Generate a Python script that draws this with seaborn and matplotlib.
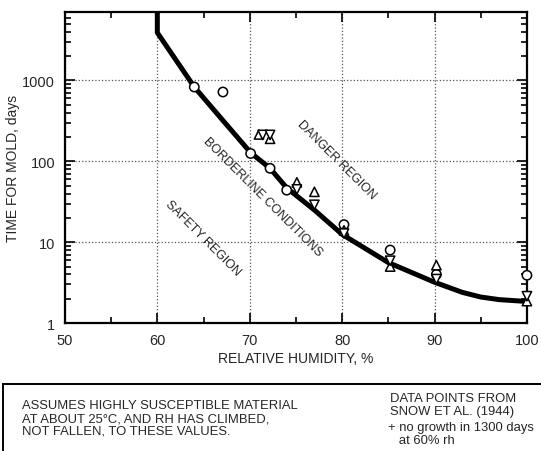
import matplotlib
matplotlib.use('Agg')
import matplotlib.pyplot as plt
from matplotlib.patches import Rectangle
from matplotlib.ticker import FixedLocator, LogLocator, NullFormatter
import seaborn as sns
import numpy as np
import pandas as pd

# boundary curve
curve_rh = [60, 60, 64, 67, 70.1, 72.2, 74, 77, 80, 85, 90, 93, 95, 97, 100]
curve_days = [7000, 3900, 830, 330, 128, 82, 47, 25, 12.5, 5.6, 3.2, 2.4, 2.1, 1.95, 1.85]

# Snow et al. data points
circle_rh = [64, 67.1, 70.1, 72.2, 74, 80.2, 85.2, 90.2, 100]
circle_days = [830, 720, 125, 82, 44, 16.5, 8.0, 4.0, 3.9]
up_rh = [71.0, 72.2, 75.1, 77, 80.2, 85.2, 90.2, 100]
up_days = [215, 190, 55, 42, 14, 5.0, 5.2, 1.87]
down_rh = [71.4, 72.2, 75.1, 77, 80.2, 85.2, 90.2, 100]
down_days = [212, 212, 45, 29, 12.8, 5.9, 3.5, 2.15]

x_ticks = [50, 60, 70, 80, 90, 100]
y_ticks = [1, 10, 100, 1000]

sns.set_style("ticks")
plt.rcParams['font.family'] = ['Liberation Sans', 'DejaVu Sans']

fig = plt.figure(figsize=(5.41, 4.52), dpi=100)
ax = fig.add_axes([0.120, 0.283, 0.854, 0.688])

curve = pd.DataFrame({'rh': curve_rh, 'days': curve_days})
sns.lineplot(data=curve, x='rh', y='days', sort=False, estimator=None,
             color='black', lw=3.6, ax=ax, zorder=3)

pts = pd.concat([
    pd.DataFrame({'rh': circle_rh, 'days': circle_days, 'kind': 'circle'}),
    pd.DataFrame({'rh': up_rh, 'days': up_days, 'kind': 'up'}),
    pd.DataFrame({'rh': down_rh, 'days': down_days, 'kind': 'down'}),
])
sns.scatterplot(data=pts, x='rh', y='days', style='kind',
                markers={'circle': 'o', 'up': '^', 'down': 'v'},
                s=45, facecolor='white', edgecolor='black', linewidth=1.1,
                legend=False, ax=ax, zorder=4, clip_on=False)

ax.set_yscale('log')
ax.set_xlim(50, 100)
ax.set_ylim(1, 7000)
ax.set_xticks(x_ticks)
ax.xaxis.set_minor_locator(FixedLocator([55, 65, 75, 85, 95]))
ax.set_yticks(y_ticks)
ax.set_yticklabels([str(v) for v in y_ticks])
ax.yaxis.set_minor_locator(LogLocator(base=10, subs=np.arange(2, 10)))
ax.yaxis.set_minor_formatter(NullFormatter())
ax.tick_params(which='both', direction='in', top=True, right=True,
               labelsize=10.5, width=1.2, color='black')
ax.tick_params(which='major', length=7)
ax.tick_params(which='minor', length=4.5)
ax.tick_params(axis='x', pad=7)
ax.tick_params(axis='y', pad=7)
ax.grid(True, which='major', ls=':', lw=0.9, color='#555555')
for s in ax.spines.values():
    s.set_linewidth(1.6)
    s.set_color('black')

ax.set_xlabel('RELATIVE HUMIDITY, %', fontsize=10, labelpad=3)
ax.set_ylabel('TIME FOR MOLD, days', fontsize=10)
ax.yaxis.set_label_coords(-0.098, 0.5)

txt = dict(fontsize=9, rotation=-45, ha='center', va='center',
           rotation_mode='anchor')
ax.text(79.4, 105, 'DANGER REGION', **txt)
ax.text(71.4, 37, 'BORDERLINE CONDITIONS', **txt)
ax.text(64.9, 11.5, 'SAFETY REGION', **txt)

# note box at the bottom
fig.patches.append(Rectangle((0.006, -0.02), 1.0, 0.168, transform=fig.transFigure,
                             fill=False, lw=1.4, edgecolor='black'))
fig.text(0.041, 0.114, 'ASSUMES HIGHLY SUSCEPTIBLE MATERIAL\n'
         'AT ABOUT 25°C, AND RH HAS CLIMBED,\nNOT FALLEN, TO THESE VALUES.',
         fontsize=9.4, va='top', ha='left', linespacing=1.07)
fig.text(0.721, 0.130, 'DATA POINTS FROM\nSNOW ET AL. (1944)',
         fontsize=9.4, va='top', ha='left', linespacing=1.05)
fig.text(0.717, 0.066, '+ no growth in 1300 days\n   at 60% rh',
         fontsize=9.4, va='top', ha='left', linespacing=1.05)

fig.savefig('out.png', dpi=100)
